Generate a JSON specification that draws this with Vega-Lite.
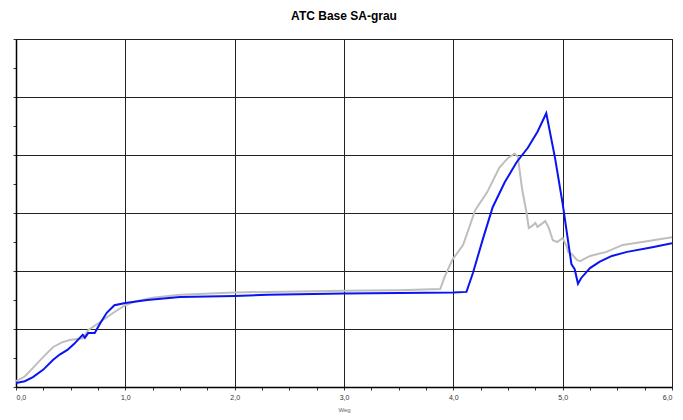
{
  "$schema": "https://vega.github.io/schema/vega-lite/v6.json",
  "width": 656,
  "height": 348,
  "autosize": {"type": "none"},
  "padding": {"left": 16, "top": 39, "right": 11, "bottom": 33},
  "background": "white",
  "title": {"text": "ATC Base SA-grau", "font": "Liberation Sans", "fontSize": 12, "fontWeight": "bold", "color": "#000", "anchor": "middle", "offset": 16},
  "data": {"values": [
    {"s":"grau","x":0.00,"y":0.10},{"s":"grau","x":0.08,"y":0.18},{"s":"grau","x":0.155,"y":0.33},{"s":"grau","x":0.25,"y":0.52},{"s":"grau","x":0.34,"y":0.69},{"s":"grau","x":0.42,"y":0.77},{"s":"grau","x":0.49,"y":0.81},{"s":"grau","x":0.61,"y":0.84},{"s":"grau","x":0.66,"y":0.98},{"s":"grau","x":0.77,"y":1.12},{"s":"grau","x":0.89,"y":1.28},{"s":"grau","x":1.0,"y":1.41},{"s":"grau","x":1.1,"y":1.48},{"s":"grau","x":1.25,"y":1.54},{"s":"grau","x":1.5,"y":1.59},{"s":"grau","x":2.0,"y":1.63},{"s":"grau","x":3.0,"y":1.66},{"s":"grau","x":3.5,"y":1.67},{"s":"grau","x":3.88,"y":1.69},{"s":"grau","x":3.92,"y":1.90},{"s":"grau","x":3.99,"y":2.19},{"s":"grau","x":4.09,"y":2.45},{"s":"grau","x":4.20,"y":3.05},{"s":"grau","x":4.31,"y":3.36},{"s":"grau","x":4.42,"y":3.78},{"s":"grau","x":4.50,"y":3.95},{"s":"grau","x":4.56,"y":4.02},{"s":"grau","x":4.59,"y":3.97},{"s":"grau","x":4.63,"y":3.40},{"s":"grau","x":4.67,"y":3.00},{"s":"grau","x":4.69,"y":2.74},{"s":"grau","x":4.73,"y":2.79},{"s":"grau","x":4.75,"y":2.83},{"s":"grau","x":4.77,"y":2.76},{"s":"grau","x":4.82,"y":2.83},{"s":"grau","x":4.84,"y":2.86},{"s":"grau","x":4.87,"y":2.76},{"s":"grau","x":4.91,"y":2.53},{"s":"grau","x":4.95,"y":2.50},{"s":"grau","x":5.00,"y":2.57},{"s":"grau","x":5.04,"y":2.41},{"s":"grau","x":5.05,"y":2.33},{"s":"grau","x":5.09,"y":2.28},{"s":"grau","x":5.13,"y":2.19},{"s":"grau","x":5.16,"y":2.17},{"s":"grau","x":5.25,"y":2.26},{"s":"grau","x":5.40,"y":2.33},{"s":"grau","x":5.55,"y":2.45},{"s":"grau","x":5.80,"y":2.52},{"s":"grau","x":6.0,"y":2.58},
    {"s":"blau","x":0.00,"y":0.07},{"s":"blau","x":0.08,"y":0.10},{"s":"blau","x":0.155,"y":0.17},{"s":"blau","x":0.25,"y":0.30},{"s":"blau","x":0.34,"y":0.47},{"s":"blau","x":0.40,"y":0.56},{"s":"blau","x":0.47,"y":0.64},{"s":"blau","x":0.53,"y":0.74},{"s":"blau","x":0.59,"y":0.86},{"s":"blau","x":0.61,"y":0.90},{"s":"blau","x":0.63,"y":0.85},{"s":"blau","x":0.66,"y":0.93},{"s":"blau","x":0.72,"y":0.93},{"s":"blau","x":0.77,"y":1.10},{"s":"blau","x":0.83,"y":1.28},{"s":"blau","x":0.90,"y":1.41},{"s":"blau","x":1.0,"y":1.45},{"s":"blau","x":1.2,"y":1.50},{"s":"blau","x":1.5,"y":1.55},{"s":"blau","x":2.0,"y":1.57},{"s":"blau","x":2.3,"y":1.59},{"s":"blau","x":3.0,"y":1.61},{"s":"blau","x":3.5,"y":1.62},{"s":"blau","x":4.0,"y":1.63},{"s":"blau","x":4.12,"y":1.64},{"s":"blau","x":4.18,"y":1.97},{"s":"blau","x":4.27,"y":2.55},{"s":"blau","x":4.36,"y":3.10},{"s":"blau","x":4.47,"y":3.53},{"s":"blau","x":4.58,"y":3.88},{"s":"blau","x":4.68,"y":4.12},{"s":"blau","x":4.77,"y":4.40},{"s":"blau","x":4.85,"y":4.72},{"s":"blau","x":4.93,"y":3.95},{"s":"blau","x":5.00,"y":3.16},{"s":"blau","x":5.08,"y":2.12},{"s":"blau","x":5.11,"y":2.03},{"s":"blau","x":5.14,"y":1.78},{"s":"blau","x":5.17,"y":1.88},{"s":"blau","x":5.25,"y":2.05},{"s":"blau","x":5.34,"y":2.16},{"s":"blau","x":5.45,"y":2.26},{"s":"blau","x":5.59,"y":2.33},{"s":"blau","x":5.82,"y":2.41},{"s":"blau","x":6.0,"y":2.48}
  ]},
  "mark": {"type": "line", "strokeWidth": 2, "interpolate": "linear", "clip": true},
  "encoding": {
    "x": {"field": "x", "type": "quantitative", "scale": {"domain": [0, 6], "nice": false},
      "axis": {"title": "Weg", "titleFont": "Liberation Sans", "titleFontSize": 6, "titleFontWeight": "normal", "titleColor": "#666", "titlePadding": 6,
        "values": [0,0.25,0.5,0.75,1,1.25,1.5,1.75,2,2.25,2.5,2.75,3,3.25,3.5,3.75,4,4.25,4.5,4.75,5,5.25,5.5,5.75,6],
        "labelExpr": "datum.value % 1 == 0 ? replace(format(datum.value, '.1f'), '.', ',') : ''", "labelFont": "Liberation Sans", "labelFontSize": 7, "labelColor": "#333", "labelPadding": 3,
        "grid": true, "gridColor": "#222", "gridWidth": 1, "gridOpacity": {"condition": {"test": "datum.value % 1 != 0", "value": 0}, "value": 1},
        "domainColor": "#000", "domainWidth": 1.5, "tickColor": "#333", "tickSize": 3}},
    "y": {"field": "y", "type": "quantitative", "scale": {"domain": [0, 6], "nice": false},
      "axis": {"title": null, "values": [0,0.5,1,1.5,2,2.5,3,3.5,4,4.5,5,5.5,6], "labels": false, "grid": true, "gridColor": "#222", "gridWidth": 1,
        "gridOpacity": {"condition": {"test": "datum.value % 1 != 0", "value": 0}, "value": 1},
        "domainColor": "#000", "domainWidth": 1.5, "tickColor": "#333", "tickSize": 3}},
    "color": {"field": "s", "type": "nominal", "scale": {"domain": ["grau","blau"], "range": ["#BEBEBE", "#0A14F0"]}, "legend": null}
  },
  "config": {"view": {"stroke": "#000", "strokeWidth": 1}}
}
